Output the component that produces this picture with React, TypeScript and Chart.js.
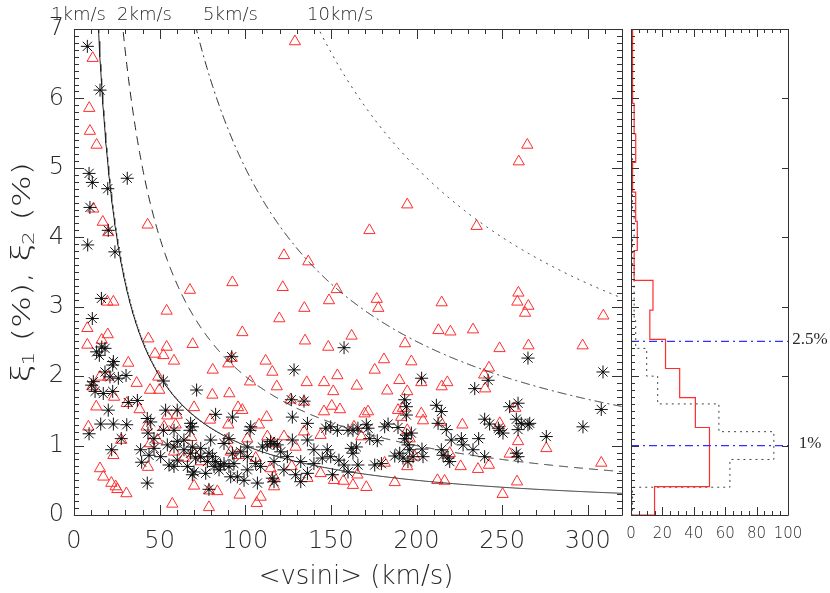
import React, { useEffect, useRef } from 'react';
import { Chart, registerables } from 'chart.js';

Chart.register(...registerables);

const W = 830;
const H = 593;

// ---------- main panel data ----------
// red triangles: xi_1 (%) vs <vsini> (km/s)
const triVsini = [
  129, 10.9, 8.9, 9.3, 13.2, 11.3, 16.8, 43, 20, 67.7, 92.5, 19.5, 23, 54.1, 7.8, 19.7, 98.3, 7.8, 16.2, 43.4,
  69.3, 54.1, 47.3, 52.2, 58.4, 92.1, 90.1, 81, 31.7, 20, 15.2, 49.2, 36.6, 102.8, 80.8, 90.7, 44.4, 49.8, 10.7,
  194.6, 172.5, 122.6, 136.8, 121.9, 153.4, 148.9, 176.8, 177.7, 214.7, 134.5, 119.9, 212.8, 219.8, 162.1, 193.3,
  134.9, 148.5, 111.9, 181, 197, 115.8, 175.6, 153.8, 190, 118.4, 135.9, 146, 151.4, 165.1, 182.9, 194.6, 214.7,
  202.8, 218,
  264.7, 259.7, 235.1, 259.5, 258.9, 265.3, 263.4, 309.1, 233, 248.5, 265.4, 297, 242.3, 239.5, 240.1,
  171.7, 169.7, 189.2, 192.1, 191.1, 202.8, 203.8, 214.1, 226.8, 248.6, 257.7, 259.3, 275.8, 163.5, 167.8, 194.6,
  196, 198.9, 194.6, 181.4, 219.4, 225.8, 235.9, 242.3, 254.4, 307.9, 165.5, 162.9, 170.7, 187.3, 212.2, 216.4,
  258.7, 250.3,
  13, 23.4, 30.8, 38.3, 54.5, 60, 70.1, 79.4, 90.1, 95.8, 98.3, 112.5, 126.5, 134.3, 150.5, 155.3, 146, 8.4, 27.6,
  23, 42.4, 52.6, 59.4, 44.4, 68.5, 43.2, 15.2, 17.1, 21.8, 24.3, 25.3, 30.6, 57.4, 78.8, 70.1, 78.8, 83.7, 96.7,
  106.7, 109, 116.8, 96.3, 106.1, 114.8, 116.8, 127.1, 136.3, 144, 151.8, 157.3, 134.3, 144, 129.4, 116.8, 122.6,
  112.9, 89.5, 101.2, 108, 91.5, 70.1, 64.2, 74, 58.4, 48.7,
];
const triXi = [
  6.82, 6.58, 5.86, 5.53, 5.33, 4.41, 4.22, 4.18, 4.07, 3.24, 3.35, 3.07, 3.07, 2.94, 2.69, 2.6, 2.63, 2.45, 2.52, 2.54,
  2.46, 2.42, 2.32, 2.3, 2.22, 2.26, 2.18, 2.09, 2.19, 1.99, 1.99, 1.99, 1.9, 1.92, 1.73, 1.75, 1.8, 1.8, 1.85,
  4.47, 4.1, 3.74, 3.65, 3.28, 3.25, 3.09, 3.11, 2.98, 3.06, 2.98, 2.83, 2.66, 2.64, 2.58, 2.47,
  2.51, 2.42, 2.22, 2.24, 2.21, 2.06, 2.09, 2.01, 1.94, 1.85, 1.91, 1.91, 1.78, 1.86, 1.79, 1.78, 1.85,
  1.91, 1.91,
  5.33, 5.09, 4.16, 3.2, 3.07, 3.01, 2.91, 2.87, 2.67, 2.4, 2.44, 2.44, 2.12, 2.02, 1.82,
  1.49, 1.46, 1.51, 1.54, 1.41, 1.46, 1.36, 1.34, 1.3, 1.32, 1.54, 1.06, 0.96, 1.27, 1.13, 1.22,
  1.1, 0.84, 0.7, 0.75, 0.89, 0.7, 0.66, 0.72, 0.88, 0.75, 0.58, 0.43, 0.4, 0.47, 0.5, 0.49,
  0.48, 0.3,
  1.56, 1.7, 1.61, 1.52, 1.43, 1.44, 1.55, 1.37, 1.3, 1.55, 1.51, 1.41, 1.66, 1.63, 1.57, 1.52, 1.49, 1.27, 1.08,
  0.86, 1.27, 1.27, 1.3, 1.03, 1.12, 0.69, 0.67, 0.55, 0.46, 0.41, 0.37, 0.31, 0.16, 0.11, 0.42, 0.35, 0.34, 0.29,
  0.17, 0.26, 0.41, 0.86, 0.82, 0.67, 0.55, 0.7, 0.53, 0.6, 0.5, 0.49, 1.2, 1.15, 0.98, 1.03, 1.13,
  1.13, 1.08, 1.1, 1.3, 0.91, 0.89, 0.82, 0.77, 0.91, 1.08,
];

// black asterisks: xi_2 (%) vs <vsini> (km/s)
const astVsini = [
  7.8, 15.2, 8.8, 10.7, 31.1, 19.7, 9.3, 20, 8, 23.9, 16, 10.7,
  13.2, 16.2, 18.1, 14.8, 92.1, 23, 22.6, 18.1, 21, 25.9, 30.4, 52.2, 71.6, 11.3, 10.3, 12.3, 17.1, 22.6,
  128.5, 157.7, 31.7, 37, 20, 15.6, 23, 30.8, 8.8, 27.6, 22, 39.5, 42.8, 42.8, 44.8, 53.5, 60.3, 43.2, 46.7, 52.2,
  58.4, 68.1, 69.1, 67.7, 82.7, 92.5, 127.5, 126.9, 134.3, 103.2, 102.8, 90.5, 114.8, 118.7, 136.3, 147, 149.9,
  153.8, 54.5, 58.4, 64.2, 68.1, 71, 55.5, 58.4, 66.2, 69.1, 74, 77.9, 80.8, 81.8, 85.6, 78.8, 90.5, 91.5, 95.4,
  99.3, 92.5, 97.3, 101.2, 106.1, 110, 112.9, 116.8, 120.7, 115.8, 116.8, 107.1, 129.4, 132.4, 136.3, 127.5, 136.3,
  140.1, 145, 149.9, 154.7, 157.7, 150.9, 203,
  265.1, 241.8, 234, 308.9, 307.9, 297.2, 275.8, 193.1, 194.1, 194.1, 193.1, 195, 197, 194.1, 211.6, 214.5, 212.6,
  217.4, 220.3, 226.2, 227.2, 233, 236.3, 239.8, 242.7, 248.6, 250.5, 254.4, 259.3, 258.3, 261.2, 265.1, 266.1,
  259.3, 239.8, 258.3, 259.3, 160, 162.9, 165.8, 170.7, 171.7, 172.7, 177.1, 181.4, 183.4, 189.2, 161.9, 164.9,
  162.9, 165.8, 160, 175.6, 179.5, 187.3, 190.2, 192.1, 196, 198, 203.2, 203.8, 195, 214.5, 215.5, 219.4, 218.4,
  247.8,
  60.3, 64.2, 69.1, 74, 78.8, 82.7, 87.6, 84.7, 76.9, 70.1, 60.3, 46.7, 50.6, 43.8, 38.9, 93.4, 101.2, 109, 124.6,
  132.4, 140.1, 147.9, 116.8, 122.6, 101.2, 79.8, 87.6,
];
const astXi = [
  6.75, 6.12, 4.92, 4.79, 4.85, 4.7, 4.43, 4.1, 3.89, 3.79, 3.12, 2.83,
  2.35, 2.42, 2.4, 2.3, 2.28, 2.21, 2.16, 2.06, 1.99, 1.97, 2.01, 1.93, 1.8, 1.92, 1.87, 1.78, 1.75, 1.78,
  2.09, 2.41, 1.62, 1.65, 1.51, 1.31, 1.31, 1.3, 1.17, 1.1, 0.94, 0.76, 0.46, 1.39, 1.34, 1.51, 1.51, 1.18, 1.1, 1.22,
  1.22, 1.32, 1.27, 1.22, 1.45, 1.41, 1.41, 1.66, 1.64, 1.27, 1.22, 1.1, 1.06, 1.01, 1.32, 1.25, 1.27,
  1.22, 1.01, 0.98, 0.94, 0.89, 0.82, 0.72, 0.7, 0.7, 0.58, 0.84, 0.77, 0.84, 0.7, 0.72, 0.37, 0.7, 0.55, 0.55,
  0.5, 0.89, 0.91, 0.84, 0.74, 0.98, 1.01, 1.03, 0.91, 0.53, 0.48, 0.46, 0.58, 0.48, 0.6, 1.08, 1.08,
  0.94, 0.82, 0.84, 0.79, 0.72, 0.58, 1.97,
  2.26, 1.94, 1.82, 2.06, 1.52, 1.27, 1.13, 1.66, 1.56, 1.44, 1.1, 1.01, 1.18, 1.15, 1.58, 1.49, 1.32,
  1.23, 1.08, 1.1, 1.01, 0.94, 1.1, 1.38, 1.31, 1.22, 1.18, 1.56, 1.61, 1.38, 1.32, 1.3, 1.32,
  1.23, 0.84, 0.89, 0.84, 1.22, 1.22, 1.25, 1.3, 1.25, 1.1, 1.07, 1.27, 1.31, 1.26, 0.96, 0.98,
  0.89, 0.72, 0.62, 0.72, 0.74, 0.85, 0.89, 0.82, 0.94, 0.84, 0.95, 0.84, 0.77, 0.94, 0.86, 0.77, 0.82,
  1.25,
  1.06, 1.08, 0.98, 0.96, 0.89, 0.77, 0.74, 0.65, 0.6, 0.62, 0.79, 0.96, 0.84, 0.86, 0.94, 0.74, 0.65, 0.7, 0.84,
  0.77, 0.74, 0.94, 0.77, 0.65, 0.98, 1.08, 1.03,
];

// reference curves xi = v / vsini (in %), labelled at the top
const curveSpeeds = [1, 2, 5, 10];
const curveLabels = ['1km/s', '2km/s', '5km/s', '10km/s'];

// ---------- histogram panel data ----------
const redEdges = [0, 0.41, 0.84, 1.26, 1.69, 2.11, 2.53, 2.95, 3.38, 3.81, 4.23, 4.65, 5.08, 5.49, 5.93, 6.35, 7.0];
const redCounts = [15, 50, 50, 41, 31, 22, 12, 14, 2, 4, 3, 1, 3, 2, 1, 1];
const blackEdges = [0, 0.4, 0.8, 1.2, 1.6, 2.0, 2.4, 2.8, 3.2, 3.6, 4.0, 4.4, 4.8, 5.2, 5.6, 6.0, 6.4, 6.8, 7.0];
const blackCounts = [1, 63, 91, 56, 17, 10, 3, 2, 2, 1, 2, 1, 1, 0, 0, 1, 0, 1];
const refLevels = [2.5, 1];
const refLabels = ['2.5%', '1%'];

// ---------- styles / layout ----------
const AXIS = '#333';
const TEXT = '#2a2a2a';
const RED = 'rgb(255,45,45)';
const BLUE = 'rgb(50,50,255)';
const SANS = 'DejaVu Sans';
const LIGHT = '200';
const curveDashes = [[], [9, 6], [9, 4, 2, 4], [2, 5]];
const topLabelLeft = [51, 117, 203, 307];

function zip(xs: number[], ys: number[]) {
  return xs.map((x, i) => ({ x, y: ys[i] }));
}

function curvePoints(v: number) {
  const pts: { x: number; y: number }[] = [];
  for (let x = (100 * v) / 7.6; x <= 320.001; x += 0.25) pts.push({ x, y: (100 * v) / x });
  return pts;
}

function outline(edges: number[], counts: number[]) {
  const pts = [{ x: 0, y: edges[0] }];
  counts.forEach((c, i) => {
    pts.push({ x: c, y: edges[i] });
    pts.push({ x: c, y: edges[i + 1] });
  });
  pts.push({ x: 0, y: edges[edges.length - 1] });
  return pts;
}

type TickCfg = {
  xMinor: number; xMajor: number; yMinor: number; yMajor: number;
  minor: number; major: number; rightMajorOnly?: boolean;
};

function drawFrame(chart: any, cfg: TickCfg) {
  const { ctx, chartArea: a } = chart;
  const xs = chart.scales.x;
  const ys = chart.scales.y;
  ctx.save();
  ctx.strokeStyle = AXIS;
  ctx.lineWidth = 1;
  ctx.beginPath();
  ctx.rect(Math.round(a.left) + 0.5, Math.round(a.top) + 0.5, Math.round(a.right - a.left), Math.round(a.bottom - a.top));
  ctx.stroke();
  ctx.beginPath();
  const nx = Math.round((xs.max - xs.min) / cfg.xMinor);
  for (let i = 0; i <= nx; i++) {
    const v = xs.min + i * cfg.xMinor;
    const r = v / cfg.xMajor;
    const isMajor = Math.abs(r - Math.round(r)) < 1e-6;
    const len = isMajor ? cfg.major : cfg.minor;
    const px = Math.round(xs.getPixelForValue(v)) + 0.5;
    ctx.moveTo(px, a.bottom);
    ctx.lineTo(px, a.bottom - len);
    ctx.moveTo(px, a.top);
    ctx.lineTo(px, a.top + len);
  }
  const ny = Math.round((ys.max - ys.min) / cfg.yMinor);
  for (let i = 0; i <= ny; i++) {
    const v = ys.min + i * cfg.yMinor;
    const r = v / cfg.yMajor;
    const isMajor = Math.abs(r - Math.round(r)) < 1e-6;
    const len = isMajor ? cfg.major : cfg.minor;
    const py = Math.round(ys.getPixelForValue(v)) + 0.5;
    ctx.moveTo(a.left, py);
    ctx.lineTo(a.left + len, py);
    if (!cfg.rightMajorOnly || isMajor) {
      const rl = cfg.rightMajorOnly ? 6 : len;
      ctx.moveTo(a.right, py);
      ctx.lineTo(a.right - rl, py);
    }
  }
  ctx.stroke();
  ctx.restore();
}

function drawRotatedTitle(ctx: CanvasRenderingContext2D, cx: number, cy: number) {
  const big = `${LIGHT} 25px "${SANS}"`;
  const greek = `300 26px "Noto Sans"`;
  const small = `${LIGHT} 16px "${SANS}"`;
  const parts = [
    { t: 'ξ', f: greek, dy: 0 },
    { t: '1', f: small, dy: 7 },
    { t: ' (%), ', f: big, dy: 0 },
    { t: 'ξ', f: greek, dy: 0 },
    { t: '2', f: small, dy: 7 },
    { t: ' (%)', f: big, dy: 0 },
  ];
  ctx.save();
  ctx.translate(cx, cy);
  ctx.rotate(-Math.PI / 2);
  ctx.scale(1.35, 1);
  ctx.fillStyle = TEXT;
  ctx.textBaseline = 'middle';
  ctx.textAlign = 'left';
  let total = 0;
  const widths = parts.map((p) => {
    ctx.font = p.f;
    const w = ctx.measureText(p.t).width;
    total += w;
    return w;
  });
  let x = -total / 2;
  parts.forEach((p, i) => {
    ctx.font = p.f;
    ctx.fillText(p.t, x, p.dy);
    x += widths[i];
  });
  ctx.restore();
}

const mainDecor = {
  id: 'mainDecor',
  afterDraw(chart: any) {
    drawFrame(chart, { xMinor: 10, xMajor: 50, yMinor: 0.1, yMajor: 1, minor: 5, major: 10 });
    const { ctx, chartArea: a } = chart;
    ctx.save();
    ctx.fillStyle = TEXT;
    ctx.font = `${LIGHT} 18px "${SANS}"`;
    ctx.textBaseline = 'alphabetic';
    ctx.textAlign = 'left';
    curveLabels.forEach((t, i) => ctx.fillText(t, topLabelLeft[i], 20));
    ctx.font = `${LIGHT} 26px "${SANS}"`;
    ctx.textAlign = 'center';
    ctx.textBaseline = 'middle';
    ctx.fillText('<vsini> (km/s)', (a.left + a.right) / 2 + 8, 577);
    ctx.restore();
    drawRotatedTitle(ctx, 23, 272);
  },
};

const histDecor = {
  id: 'histDecor',
  afterDraw(chart: any) {
    drawFrame(chart, { xMinor: 5, xMajor: 20, yMinor: 0.1, yMajor: 1, minor: 4, major: 8, rightMajorOnly: true });
    const { ctx } = chart;
    const ys = chart.scales.y;
    ctx.save();
    ctx.fillStyle = TEXT;
    ctx.font = '17px "Liberation Serif"';
    ctx.textAlign = 'center';
    ctx.textBaseline = 'middle';
    refLevels.forEach((lv, i) => ctx.fillText(refLabels[i], 810, ys.getPixelForValue(lv) - 2));
    ctx.restore();
  },
};

export default function App() {
  const mainRef = useRef<HTMLCanvasElement | null>(null);
  const histRef = useRef<HTMLCanvasElement | null>(null);

  useEffect(() => {
    Chart.defaults.font.family = SANS;
    const mainChart = new Chart(mainRef.current as HTMLCanvasElement, {
      type: 'scatter',
      data: {
        datasets: [
          ...curveSpeeds.map((v, i) => ({
            data: curvePoints(v),
            showLine: true,
            borderColor: '#222',
            borderWidth: 1,
            borderDash: curveDashes[i],
            pointRadius: 0,
            tension: 0,
          })),
          {
            data: zip(astVsini, astXi),
            pointStyle: 'star',
            pointRadius: 6.5,
            borderColor: '#111',
            backgroundColor: '#111',
            pointBorderWidth: 1,
            showLine: false,
          },
          {
            data: zip(astVsini, astXi),
            pointStyle: 'circle',
            pointRadius: 1.2,
            borderColor: '#000',
            backgroundColor: '#000',
            pointBorderWidth: 0,
            showLine: false,
          },
          {
            data: zip(triVsini, triXi),
            pointStyle: 'triangle',
            pointRadius: 6.5,
            borderColor: RED,
            backgroundColor: 'rgba(0,0,0,0)',
            pointBorderWidth: 1,
            showLine: false,
          },
        ] as any,
      },
      options: {
        animation: false,
        responsive: false,
        events: [],
        layout: { padding: { left: 0, top: 29, right: 208, bottom: 0 } },
        plugins: { legend: { display: false }, tooltip: { enabled: false } },
        scales: {
          x: {
            type: 'linear',
            min: 0,
            max: 320,
            afterFit: (s: any) => { s.height = 78; },
            grid: { display: false, drawTicks: false },
            border: { display: false },
            ticks: {
              stepSize: 50, includeBounds: false, padding: 12, color: TEXT, maxRotation: 0, autoSkip: false,
              font: { family: SANS, size: 24, weight: LIGHT },
            },
          },
          y: {
            type: 'linear',
            min: 0,
            max: 7,
            afterFit: (s: any) => { s.width = 74; },
            grid: { display: false, drawTicks: false },
            border: { display: false },
            ticks: { stepSize: 1, includeBounds: false, padding: 10, color: TEXT, font: { family: SANS, size: 24, weight: LIGHT } },
          },
        },
      } as any,
      plugins: [mainDecor],
    });

    const histChart = new Chart(histRef.current as HTMLCanvasElement, {
      type: 'scatter',
      data: {
        datasets: [
          ...refLevels.map((lv) => ({
            data: [{ x: 0, y: lv }, { x: 100, y: lv }],
            showLine: true,
            borderColor: BLUE,
            backgroundColor: BLUE,
            borderWidth: 1.2,
            borderDash: [8, 4, 2, 4],
            pointRadius: 0,
          })),
          {
            data: outline(redEdges, redCounts),
            showLine: true,
            borderColor: RED,
            borderWidth: 1.2,
            pointRadius: 0,
          },
          {
            data: outline(blackEdges, blackCounts),
            showLine: true,
            borderColor: '#444',
            borderWidth: 1,
            borderDash: [2, 4],
            pointRadius: 0,
          },
        ] as any,
      },
      options: {
        animation: false,
        responsive: false,
        events: [],
        layout: { padding: { left: 631, top: 29, right: 42, bottom: 0 } },
        plugins: { legend: { display: false }, tooltip: { enabled: false } },
        scales: {
          x: {
            type: 'linear',
            min: 0,
            max: 100,
            afterFit: (s: any) => { s.height = 78; },
            grid: { display: false, drawTicks: false },
            border: { display: false },
            ticks: {
              stepSize: 20, includeBounds: false, padding: 10, color: TEXT, maxRotation: 0, autoSkip: false,
              font: { family: SANS, size: 15, weight: LIGHT },
            },
          },
          y: {
            type: 'linear',
            min: 0,
            max: 7,
            display: false,
          },
        },
      } as any,
      plugins: [histDecor],
    });

    return () => {
      mainChart.destroy();
      histChart.destroy();
    };
  }, []);

  const cv: React.CSSProperties = { position: 'absolute', left: 0, top: 0, width: W, height: H };
  return (
    <div style={{ position: 'absolute', left: 0, top: 0, width: W, height: H, background: '#fff' }}>
      <canvas ref={mainRef} width={W} height={H} style={cv} />
      <canvas ref={histRef} width={W} height={H} style={cv} />
    </div>
  );
}
